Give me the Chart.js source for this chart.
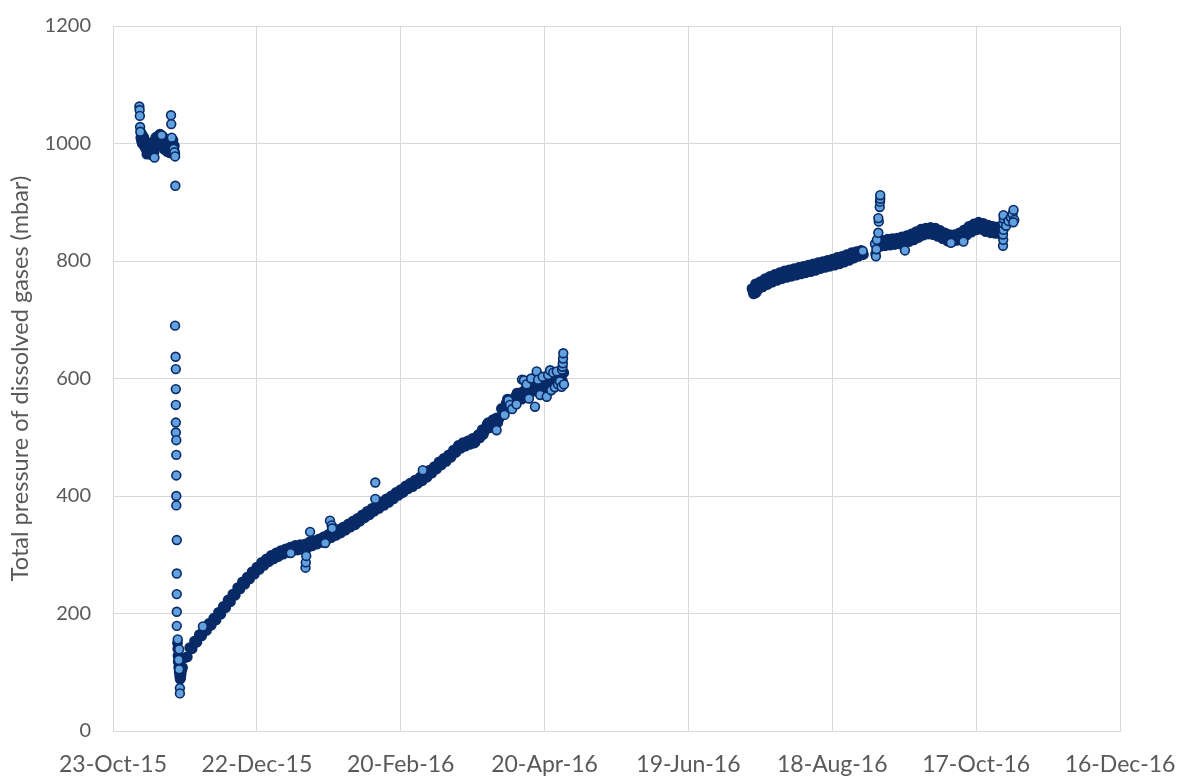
<!DOCTYPE html>
<html>
<head>
<meta charset="utf-8">
<script src="https://cdn.jsdelivr.net/npm/chart.js@4.4.1/dist/chart.umd.min.js"></script>
<style>
  html, body { margin: 0; padding: 0; background: #fff; overflow: hidden; }
  #pressureChart { display: block; }
</style>
</head>
<body>
<canvas id="pressureChart" width="1179" height="776"></canvas>
<script>
  // day 0 of the x axis is 23-Oct-2015, ticks every 60 days
  const startDate = [2015, 9, 23]
  const tickDays = [0, 60, 120, 180, 240, 300, 360, 420]
  const pressureTicks = [0, 200, 400, 600, 800, 1000, 1200]
  const monthNames = ['Jan', 'Feb', 'Mar', 'Apr', 'May', 'Jun', 'Jul', 'Aug', 'Sep', 'Oct', 'Nov', 'Dec']

  // dense readings of the first weeks and the bottom of the drop (day, mbar)
  const octoberDays = [11.6, 11.9, 12.2, 12.5, 12.8, 13.1, 13.4, 13.7, 14.0, 14.3, 14.6, 14.9, 15.2, 15.5, 15.8, 16.1, 16.4, 16.7, 17.0, 17.6,
    17.9, 18.2, 18.5, 18.8, 19.1, 19.4, 19.7, 20.0, 20.3, 20.6, 20.9, 21.2, 21.5, 21.8, 22.1, 22.4, 22.7, 23.0, 23.3, 23.6,
    23.9, 24.3, 24.6, 24.9, 25.2, 25.5, 25.8,
    11.7, 12.3, 12.9, 13.5, 14.1, 14.7, 15.3, 15.9, 16.5, 17.1, 17.8, 18.4, 19.0, 19.6, 20.2, 20.8, 21.4, 22.0, 22.6, 23.2,
    23.8, 24.4, 25.0, 25.6,
    26.9, 27.0, 27.1, 27.2, 27.4, 27.6, 27.8, 28.0, 28.2, 28.4, 28.6, 28.8]
  const octoberPressure = [1010, 1004, 1000, 1006, 997, 1002, 993, 999, 990, 996, 988, 994, 986, 991, 988, 993, 997, 991, 995, 999,
    1004, 998, 1005, 1001, 1008, 1003, 1010, 1005, 1011, 1004, 999, 1002, 996, 1000, 994, 998, 992, 996, 990, 994,
    998, 1004, 998, 992, 997, 988, 983,
    1018, 1014, 1010, 1004, 982, 998, 994, 981, 1002, 985, 1010, 1012, 996, 1016, 998, 1012, 990, 1007, 986, 1004,
    984, 996, 1006, 996,
    150, 140, 128, 118, 108, 100, 93, 88, 90, 96, 102, 108]

  // daily readings, winter and spring
  const springStartDay = 28
  const springPressure = [99, 108, 125, 126, 142, 140, 153, 151, 164, 162, 174, 171, 183, 180, 192, 189, 202, 199, 212, 210,
    223, 220, 233, 231, 244, 242, 254, 250, 262, 259, 271, 267, 279, 275, 287, 282, 293, 288, 299, 293,
    303, 297, 307, 301, 310, 304, 313, 307, 316, 308, 317, 309, 318, 311, 322, 315, 324, 318, 327, 321,
    331, 325, 335, 329, 339, 333, 343, 337, 347, 342, 352, 347, 357, 351, 362, 357, 368, 363, 374, 368,
    379, 374, 385, 379, 390, 384, 395, 389, 400, 395, 406, 401, 411, 406, 417, 412, 422, 416, 427, 421,
    432, 426, 437, 432, 444, 439, 450, 446, 458, 453, 464, 459, 470, 466, 478, 474, 486, 481, 491, 485,
    494, 488, 498, 491, 502, 499, 513, 511, 522, 516, 526, 522, 533, 532, 549, 548, 558, 550, 564, 559,
    570, 565, 576, 571, 582, 577, 588, 582, 589, 580, 590, 584, 594, 589, 600, 594, 603, 596, 605, 599, 610]
  // the band gets wider towards the end of the spring run
  const springSpreadDays = [150.5, 152.5, 154.5, 156.5, 158.5, 160.5, 162.5, 164.5, 166.5, 168.5, 170.5, 172.5, 174.5, 176.5,
    178.5, 180.5, 182.5, 184.5, 186.5, 187.5]
  const springSpreadPressure = [490, 505, 505, 525, 530, 525, 540, 565, 555, 575, 565, 572, 592, 578,
    598, 584, 590, 592, 608, 595]

  // daily readings, summer
  const summerStartDay = 267
  const summerPressure = [747, 761, 751, 765, 756, 770, 760, 774, 764, 777, 767, 780, 770, 783, 772, 785, 774, 787, 776, 789,
    778, 791, 780, 793, 782, 795, 784, 797, 787, 799, 789, 801, 791, 803, 793, 806, 795, 808, 798, 811,
    801, 814, 805, 816, 808, 818, 811]
  const summerExtraDays = [266.5, 267.2, 268.2, 268.8]
  const summerExtraPressure = [753, 744, 746, 760]

  // daily readings, autumn
  const autumnStartDay = 320
  const autumnPressure = [825, 835, 826, 837, 827, 838, 828, 839, 829, 841, 831, 843, 833, 846, 836, 850, 840, 854, 844, 856,
    846, 857, 845, 856, 842, 852, 838, 848, 834, 845, 833, 845, 835, 848, 838, 853, 844, 859, 849, 863,
    853, 866, 854, 864, 850, 861, 848, 859, 847, 858, 846, 857]

  // isolated readings: first days, the drop, scatter around the bands, jumps
  const looseDays = [11.0, 11.1, 11.2, 11.3, 11.4, 17.3, 20.3, 24.2, 24.3, 24.5, 25.3, 25.6, 25.9, 26.0,
    25.9, 26.1, 26.2, 26.2, 26.2, 26.2, 26.2, 26.4, 26.4, 26.4, 26.4, 26.4, 26.6, 26.6, 26.6, 26.6, 26.6,
    27.0, 27.6, 27.4, 27.6, 27.9, 27.9,
    37.5, 74.1, 80.3, 80.4, 80.6, 82.2, 88.5, 90.5, 91.2, 91.4, 109.4, 109.4, 129.2, 160.0, 163.3, 164.9, 165.6, 166.5,
    168.3, 170.6, 171.4, 172.5, 173.5, 174.4, 176.0, 176.7, 177.3, 178.2, 179.2, 180.9, 181.5, 182.3, 182.8, 183.6,
    184.3, 185.1, 185.6, 186.4, 187.1, 187.3, 187.5, 187.6, 187.7, 187.8, 188.1,
    312.7, 317.8, 318.0, 318.2, 318.4, 318.6, 319.2, 319.4, 319.2, 319.8, 319.9, 320.0, 320.0, 330.3, 349.5, 354.7,
    371.2, 371.3, 371.2, 371.4, 371.3, 371.5, 371.4, 372.5, 373.5, 374.5, 375.2, 375.6, 375.9, 375.5]
  const loosePressure = [1063, 1057, 1047, 1028, 1020, 976, 1014, 1048, 1033, 1010, 991, 985, 978, 928,
    690, 637, 616, 582, 555, 525, 508, 495, 470, 435, 400, 384, 325, 268, 233, 203, 179,
    156, 139, 121, 105, 73, 64,
    178, 303, 278, 287, 298, 339, 320, 358, 350, 345, 423, 395, 444, 512, 538, 563, 555, 548,
    556, 598, 597, 590, 566, 600, 552, 612, 598, 572, 603, 569, 606, 614, 580, 610,
    585, 612, 590, 595, 586, 615, 620, 626, 634, 643, 590,
    817, 829, 812, 808, 820, 836, 848, 867, 873, 892, 901, 906, 912, 818, 831, 833,
    826, 836, 845, 853, 864, 872, 878, 860, 868, 874, 880, 887, 870, 866]

  function pairPoints (days, values) {
    return days.map((d, i) => ({ x: d, y: values[i] }))
  }

  function dailyPoints (firstDay, values) {
    return values.map((v, i) => ({ x: firstDay + i, y: v }))
  }

  function dateLabel (day) {
    const d = new Date(Date.UTC(startDate[0], startDate[1], startDate[2] + day))
    return `${d.getUTCDate()}-${monthNames[d.getUTCMonth()]}-${String(d.getUTCFullYear()).slice(2)}`
  }

  const navy = '#082a66'
  const lightBlue = '#62a1de'
  const gray = '#595959'
  const gridGray = '#d9d9d9'

  // where the readings pile up only the dark outlines are seen
  const densePoints = [
    ...pairPoints(octoberDays, octoberPressure),
    ...dailyPoints(springStartDay, springPressure),
    ...pairPoints(springSpreadDays, springSpreadPressure),
    ...pairPoints(summerExtraDays, summerExtraPressure),
    ...dailyPoints(summerStartDay, summerPressure),
    ...dailyPoints(autumnStartDay, autumnPressure)
  ]
  const loosePoints = pairPoints(looseDays, loosePressure)

  const ctx = document.getElementById('pressureChart')
  new Chart(ctx, {
    type: 'scatter',
    data: {
      datasets: [
        {
          label: 'Total pressure',
          data: loosePoints,
          order: 0,
          backgroundColor: lightBlue,
          borderColor: navy,
          borderWidth: 1.6,
          pointRadius: 4.4,
          pointHoverRadius: 4.4
        },
        {
          label: 'Total pressure (dense)',
          data: densePoints,
          order: 1,
          backgroundColor: navy,
          borderColor: navy,
          borderWidth: 1.6,
          pointRadius: 4.6,
          pointHoverRadius: 4.6
        }
      ]
    },
    options: {
      responsive: false,
      animation: false,
      devicePixelRatio: 1,
      layout: { padding: { top: 26, right: 59, bottom: 0, left: 0 } },
      plugins: {
        legend: { display: false },
        tooltip: { enabled: false }
      },
      scales: {
        x: {
          type: 'linear',
          min: tickDays[0],
          max: tickDays[tickDays.length - 1],
          afterBuildTicks: axis => { axis.ticks = tickDays.map(v => ({ value: v })) },
          afterFit: axis => {
            axis.height = 45
            axis.paddingLeft = 0
            axis.paddingRight = 0
          },
          ticks: {
            callback: v => dateLabel(v),
            color: gray,
            font: { family: 'Lato', size: 23 },
            padding: 20,
            maxRotation: 0,
            autoSkip: false
          },
          grid: { color: gridGray, lineWidth: 1, drawTicks: false },
          border: { color: gridGray }
        },
        y: {
          min: pressureTicks[0],
          max: pressureTicks[pressureTicks.length - 1],
          afterBuildTicks: axis => { axis.ticks = pressureTicks.map(v => ({ value: v })) },
          afterFit: axis => {
            axis.width = 113
            axis.paddingTop = 0
            axis.paddingBottom = 0
          },
          ticks: {
            callback: v => String(v),
            color: gray,
            font: { family: 'Lato', size: 20 },
            padding: 22
          },
          grid: { color: gridGray, lineWidth: 1, drawTicks: false },
          border: { color: gridGray },
          title: {
            display: true,
            text: 'Total pressure of dissolved gases (mbar)',
            color: gray,
            font: { family: 'Lato', size: 23.5 },
            padding: { top: 6, bottom: 0 }
          }
        }
      }
    }
  })
</script>
</body>
</html>
